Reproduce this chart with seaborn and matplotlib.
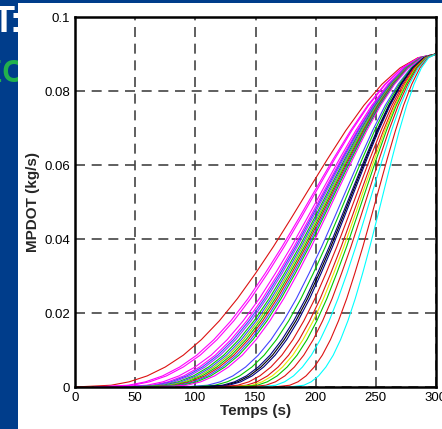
import matplotlib
matplotlib.use("Agg")
import matplotlib.pyplot as plt
import pandas as pd
import seaborn as sns
from matplotlib.patches import Rectangle
from matplotlib.ticker import MultipleLocator, FormatStrFormatter

# mass flow levels (kg/s) and the time (s) at which each curve reaches them
levels = [0, 0.00048, 0.0014, 0.0030, 0.0054, 0.0086, 0.0128, 0.0179, 0.0239, 0.0307,
          0.0380, 0.0458, 0.0538, 0.0617, 0.0693, 0.0761, 0.0818, 0.0862, 0.0890, 0.09]

t_a = [0, 30, 45, 60, 75, 90, 105, 120, 135, 150, 165, 180, 195, 210, 225, 240, 255, 270, 285, 300]
t_b = [16, 44.4, 58.6, 72.8, 87, 101.2, 115.4, 129.6, 143.8, 158, 172.2, 186.4, 200.6, 214.8, 229, 243.2, 257.4, 271.6, 285.8, 300]
t_c = [20, 48, 62, 76, 90, 104, 118, 132, 146, 160, 174, 188, 202, 216, 230, 244, 258, 272, 286, 300]
t_d = [33, 59.7, 73.1, 86.4, 99.8, 113.1, 126.5, 139.8, 153.2, 166.5, 179.9, 193.2, 206.6, 219.9, 233.3, 246.6, 260, 273.3, 286.7, 300]
t_e = [38, 64.2, 77.3, 90.4, 103.5, 116.6, 129.7, 142.8, 155.9, 169, 182.1, 195.2, 208.3, 221.4, 234.5, 247.6, 260.7, 273.8, 286.9, 300]
t_f = [41, 66.9, 79.9, 92.8, 105.8, 118.7, 131.7, 144.6, 157.6, 170.5, 183.5, 196.4, 209.4, 222.3, 235.3, 248.2, 261.2, 274.1, 287.1, 300]
t_g = [44, 69.6, 82.4, 95.2, 108, 120.8, 133.6, 146.4, 159.2, 172, 184.8, 197.6, 210.4, 223.2, 236, 248.8, 261.6, 274.4, 287.2, 300]
t_h = [48, 73.2, 85.8, 98.4, 111, 123.6, 136.2, 148.8, 161.4, 174, 186.6, 199.2, 211.8, 224.4, 237, 249.6, 262.2, 274.8, 287.4, 300]
t_i = [51, 75.9, 88.4, 100.8, 113.3, 125.7, 138.2, 150.6, 163.1, 175.5, 188, 200.4, 212.9, 225.3, 237.8, 250.2, 262.7, 275.1, 287.6, 300]
t_j = [54, 78.6, 90.9, 103.2, 115.5, 127.8, 140.1, 152.4, 164.7, 177, 189.3, 201.6, 213.9, 226.2, 238.5, 250.8, 263.1, 275.4, 287.7, 300]
t_k = [57, 81.3, 93.5, 105.6, 117.8, 129.9, 142.1, 154.2, 166.4, 178.5, 190.7, 202.8, 215, 227.1, 239.3, 251.4, 263.6, 275.7, 287.9, 300]
t_l = [60, 84, 96, 108, 120, 132, 144, 156, 168, 180, 192, 204, 216, 228, 240, 252, 264, 276, 288, 300]
t_m = [63, 86.7, 98.6, 110.4, 122.3, 134.1, 146, 157.8, 169.7, 181.5, 193.4, 205.2, 217.1, 228.9, 240.8, 252.6, 264.5, 276.3, 288.2, 300]
t_n = [66, 89.4, 101.1, 112.8, 124.5, 136.2, 147.9, 159.6, 171.3, 183, 194.7, 206.4, 218.1, 229.8, 241.5, 253.2, 264.9, 276.6, 288.3, 300]
t_o = [70, 93, 104.5, 116, 127.5, 139, 150.5, 162, 173.5, 185, 196.5, 208, 219.5, 231, 242.5, 254, 265.5, 277, 288.5, 300]
t_p = [89, 110.1, 120.7, 131.2, 141.8, 152.3, 162.9, 173.4, 184, 194.5, 205.1, 215.6, 226.2, 236.7, 247.3, 257.8, 268.4, 278.9, 289.5, 300]
t_q = [96, 116.4, 126.6, 136.8, 147, 157.2, 167.4, 177.6, 187.8, 198, 208.2, 218.4, 228.6, 238.8, 249, 259.2, 269.4, 279.6, 289.8, 300]
t_r = [103, 122.7, 132.6, 142.4, 152.3, 162.1, 172, 181.8, 191.7, 201.5, 211.4, 221.2, 231.1, 240.9, 250.8, 260.6, 270.5, 280.3, 290.2, 300]
t_s = [106, 125.4, 135.1, 144.8, 154.5, 164.2, 173.9, 183.6, 193.3, 203, 212.7, 222.4, 232.1, 241.8, 251.5, 261.2, 270.9, 280.6, 290.3, 300]
t_t = [109, 128.1, 137.7, 147.2, 156.8, 166.3, 175.9, 185.4, 195, 204.5, 214.1, 223.6, 233.2, 242.7, 252.3, 261.8, 271.4, 280.9, 290.5, 300]
t_u = [117, 135.3, 144.5, 153.6, 162.8, 171.9, 181.1, 190.2, 199.4, 208.5, 217.7, 226.8, 236, 245.1, 254.3, 263.4, 272.6, 281.7, 290.9, 300]
t_v = [125, 142.5, 151.3, 160, 168.8, 177.5, 186.3, 195, 203.8, 212.5, 221.3, 230, 238.8, 247.5, 256.3, 265, 273.8, 282.5, 291.3, 300]
t_w = [130, 147, 155.5, 164, 172.5, 181, 189.5, 198, 206.5, 215, 223.5, 232, 240.5, 249, 257.5, 266, 274.5, 283, 291.5, 300]
t_x = [135, 151.5, 159.8, 168, 176.3, 184.5, 192.8, 201, 209.3, 217.5, 225.8, 234, 242.3, 250.5, 258.8, 267, 275.3, 283.5, 291.8, 300]
t_y = [143, 158.7, 166.6, 174.4, 182.3, 190.1, 198, 205.8, 213.7, 221.5, 229.4, 237.2, 245.1, 252.9, 260.8, 268.6, 276.5, 284.3, 292.2, 300]
t_z = [152, 166.8, 174.2, 181.6, 189, 196.4, 203.8, 211.2, 218.6, 226, 233.4, 240.8, 248.2, 255.6, 263, 270.4, 277.8, 285.2, 292.6, 300]
t_aa = [165, 178.5, 185.3, 192, 198.8, 205.5, 212.3, 219, 225.8, 232.5, 239.3, 246, 252.8, 259.5, 266.3, 273, 279.8, 286.5, 293.3, 300]
t_ab = [178, 190.2, 196.3, 202.4, 208.5, 214.6, 220.7, 226.8, 232.9, 239, 245.1, 251.2, 257.3, 263.4, 269.5, 275.6, 281.7, 287.8, 293.9, 300]

RED, MAG, BLU, PUR, GRN, YGR, YEL, CYN, NAV = (
    "#dd1111", "#ff00ff", "#4444ff", "#9933ff", "#00c800", "#99cc00", "#e6e600", "#00ffff", "#000080")

curves = [
    ("a", t_a, RED), ("b", t_b, MAG), ("c", t_c, MAG), ("d", t_d, MAG), ("e", t_e, MAG),
    ("f", t_f, BLU), ("g", t_g, PUR), ("h", t_h, GRN), ("i", t_i, BLU), ("j", t_j, YGR),
    ("k", t_k, GRN), ("l", t_l, RED), ("m", t_m, BLU), ("n", t_n, GRN), ("o", t_o, MAG),
    ("p", t_p, BLU), ("q", t_q, GRN), ("r", t_r, NAV), ("s", t_s, "black"), ("t", t_t, NAV),
    ("u", t_u, RED), ("v", t_v, RED), ("w", t_w, YEL), ("x", t_x, GRN), ("y", t_y, RED),
    ("z", t_z, CYN), ("aa", t_aa, RED), ("ab", t_ab, CYN),
]

rows = []
for name, times, color in curves:
    for t, y in zip(times, levels):
        rows.append({"curve": name, "t": t, "y": y})
df = pd.DataFrame(rows)
palette = {name: color for name, _, color in curves}

sns.set_style("white")
plt.rcParams["font.family"] = ["Liberation Sans", "DejaVu Sans"]

fig = plt.figure(figsize=(4.42, 4.29), dpi=100, facecolor="#003d8b")
# slide text peeking out from behind the plot panel
fig.text(-7 / 442, 1 - 32 / 429, "T:", color="white", fontsize=26, fontweight="bold", zorder=-2)
fig.text(-18 / 442, 1 - 82 / 429, "EC", color="#22b14c", fontsize=22, fontweight="bold", zorder=-2)
fig.add_artist(Rectangle((18 / 442, 0), 1, 1 - 3 / 429, transform=fig.transFigure,
                         facecolor="white", edgecolor="none", zorder=-1))

ax = fig.add_axes([75 / 442, 1 - 387 / 429, 361 / 442, 370 / 429])
sns.lineplot(data=df, x="t", y="y", hue="curve", palette=palette, sort=False,
             estimator=None, legend=False, linewidth=0.8, ax=ax)

ax.set_xlim(0, 300)
ax.set_ylim(0, 0.1)
ax.xaxis.set_major_locator(MultipleLocator(50))
ax.xaxis.set_minor_locator(MultipleLocator(10))
ax.yaxis.set_major_locator(MultipleLocator(0.02))
ax.yaxis.set_minor_locator(MultipleLocator(0.005))
ax.yaxis.set_major_formatter(FormatStrFormatter("%g"))
ax.tick_params(which="major", direction="in", length=6, width=1.2, labelsize=9.5, pad=3.5,
               colors="black")
ax.tick_params(which="minor", direction="in", length=3, width=1.0)
ax.grid(True, which="major", color="#444444", linestyle=(0, (6, 4)), linewidth=1.2)
ax.set_axisbelow(True)
for side in ax.spines.values():
    side.set_color("black")
    side.set_linewidth(1.8)

ax.set_xlabel("Temps (s)", fontsize=11, fontweight="bold", labelpad=0)
ax.set_ylabel("MPDOT (kg/s)", fontsize=11, fontweight="bold", labelpad=3)

fig.savefig("out.png", dpi=100)
